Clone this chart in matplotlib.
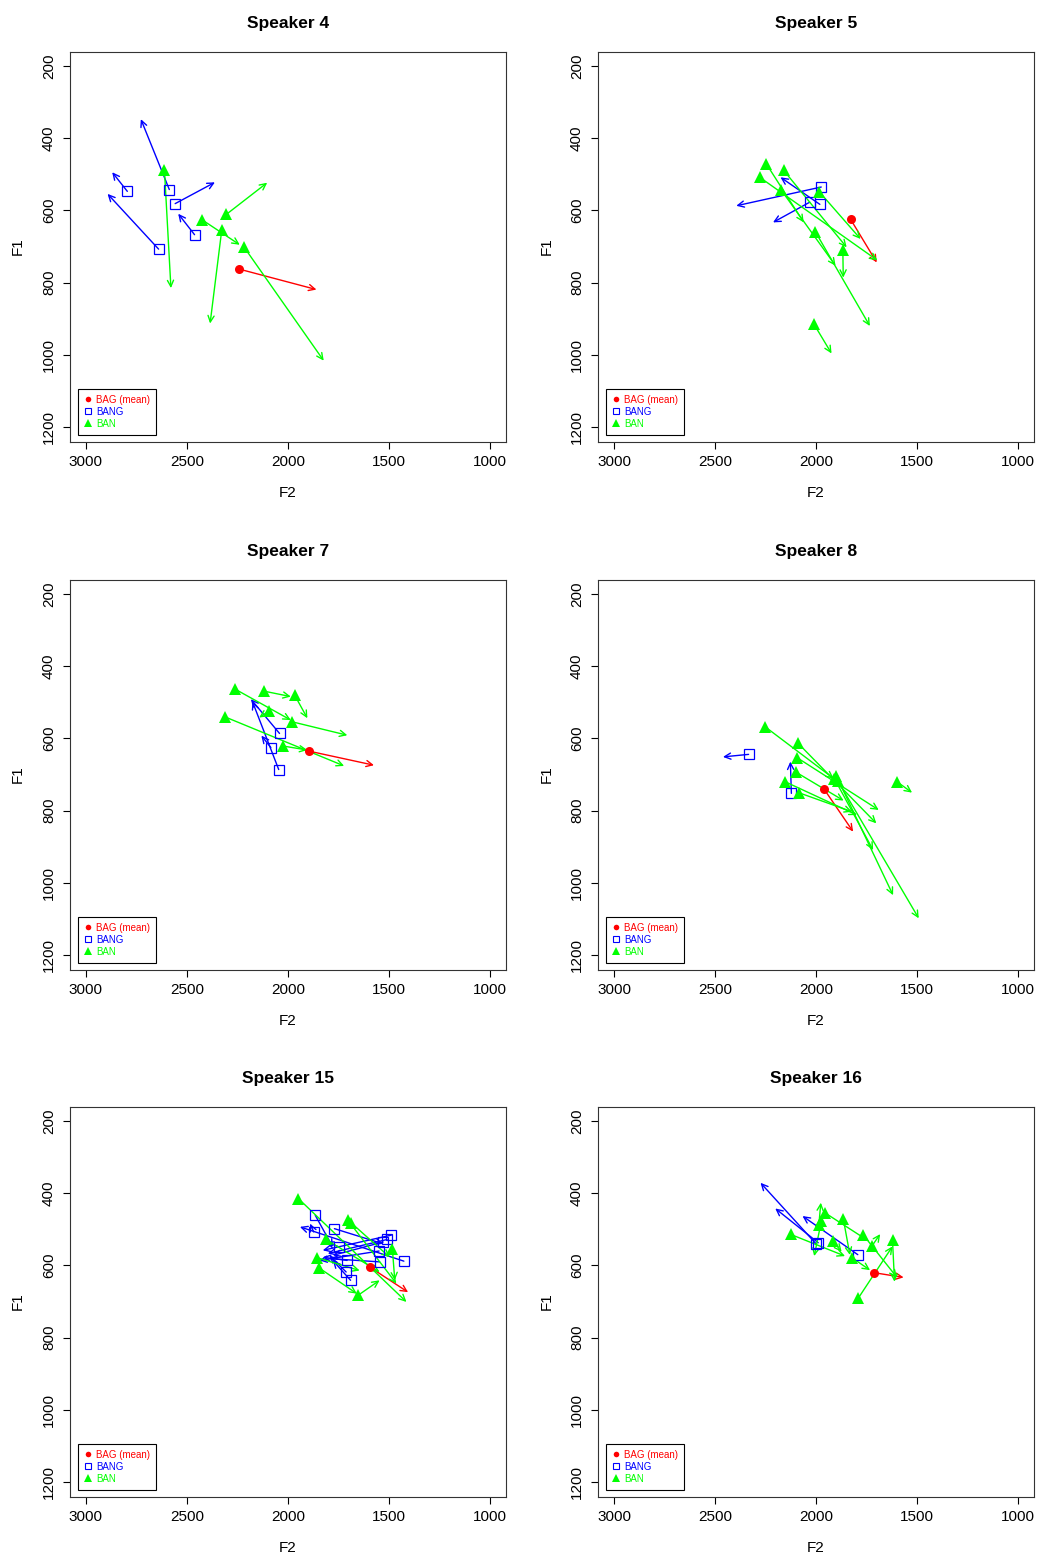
import matplotlib
matplotlib.use("Agg")
import matplotlib.pyplot as plt
from matplotlib.lines import Line2D

plt.rcParams['font.family'] = ['Liberation Sans', 'DejaVu Sans']

# each row: F2 onset, F1 onset, F2 offset, F1 offset (Hz)
spk4_bag = [(2243, 762, 1858, 819)]
spk4_bang = [(2795, 547, 2870, 494), (2587, 542, 2728, 347), (2558, 581, 2361, 522),
             (2462, 667, 2543, 609), (2640, 707, 2893, 554)]
spk4_ban = [(2611, 489, 2579, 815), (2424, 626, 2238, 695), (2305, 611, 2102, 523),
            (2327, 653, 2385, 913), (2216, 702, 1822, 1016)]

spk5_bag = [(1829, 624, 1699, 744)]
spk5_bang = [(1974, 535, 2395, 587), (2031, 577, 2213, 633), (1981, 583, 2176, 508)]
spk5_ban = [(2246, 471, 2061, 633), (2160, 489, 1848, 702), (2279, 508, 1696, 738),
            (2173, 543, 1903, 753), (1984, 548, 1779, 679), (2003, 659, 1733, 920),
            (1867, 710, 1865, 786), (2011, 914, 1923, 996)]

spk7_bag = [(1895, 635, 1573, 674)]
spk7_bang = [(2041, 586, 2183, 491), (2084, 625, 2131, 592), (2045, 686, 2175, 498)]
spk7_ban = [(2262, 463, 1985, 549), (2117, 469, 1985, 484), (1966, 480, 1903, 544),
            (2093, 524, 2142, 542), (2312, 540, 1721, 676), (1977, 554, 1705, 591),
            (2022, 621, 1903, 632)]

spk8_bag = [(1959, 741, 1816, 858)]
spk8_bang = [(2334, 644, 2461, 651), (2122, 752, 2127, 664)]
spk8_ban = [(2251, 568, 1912, 711), (2091, 612, 1701, 835), (2094, 653, 1689, 798),
            (2097, 694, 1863, 772), (2152, 720, 1797, 812), (2086, 750, 1821, 803),
            (1899, 704, 1618, 1034), (1892, 717, 1491, 1098), (1909, 711, 1717, 909),
            (1598, 720, 1524, 750)]

spk15_bag = [(1595, 604, 1404, 674)]
spk15_bang = [(1425, 588, 1940, 493), (1487, 516, 1827, 558), (1508, 528, 1802, 567),
              (1528, 535, 1777, 572), (1548, 560, 1844, 586), (1545, 590, 1794, 581),
              (1864, 461, 1777, 549), (1872, 507, 1890, 484), (1769, 498, 1528, 540),
              (1744, 549, 1811, 535), (1706, 586, 1827, 577), (1711, 618, 1794, 572),
              (1689, 641, 1777, 586)]
spk15_ban = [(1947, 415, 1412, 701), (1702, 475, 1462, 650), (1686, 482, 1495, 577),
             (1811, 528, 1545, 618), (1482, 553, 1470, 641), (1857, 578, 1644, 614),
             (1847, 606, 1658, 678), (1653, 683, 1545, 641)]

spk16_bag = [(1712, 620, 1566, 633)]
spk16_bang = [(1998, 541, 2275, 371), (1989, 537, 2202, 442), (1793, 570, 2067, 463)]
spk16_ban = [(1956, 454, 1740, 532), (1973, 476, 2009, 574), (1986, 488, 1976, 426),
             (1865, 470, 1832, 571), (1765, 516, 1599, 633), (2125, 514, 1856, 574),
             (1915, 533, 1873, 562), (1724, 547, 1682, 513), (1621, 530, 1611, 645),
             (1823, 578, 1732, 613), (1790, 690, 1621, 547)]

titles = ["Speaker 4", "Speaker 5", "Speaker 7", "Speaker 8", "Speaker 15", "Speaker 16"]
panels = [(spk4_bag, spk4_bang, spk4_ban), (spk5_bag, spk5_bang, spk5_ban),
          (spk7_bag, spk7_bang, spk7_ban), (spk8_bag, spk8_bang, spk8_ban),
          (spk15_bag, spk15_bang, spk15_ban), (spk16_bag, spk16_bang, spk16_ban)]
labels = ["BAG (mean)", "BANG", "BAN"]
colors = ["#FF0000", "#0000FF", "#00FF00"]
markers = ["o", "s", "^"]
sizes = [6.5, 6.5, 9]

W, H = 1037, 1557
fig = plt.figure(figsize=(W / 100, H / 100), dpi=100)
lefts = [69.8, 598.0]
tops = [51.6, 579.6, 1106.6]
aw, ah = 436.0, 390.0

for i, (title, sets) in enumerate(zip(titles, panels)):
    r, c = divmod(i, 2)
    ax = fig.add_axes([lefts[c] / W, 1 - (tops[r] + ah) / H, aw / W, ah / H])
    for rows, col in zip(sets, colors):
        for f2a, f1a, f2b, f1b in rows:
            ax.annotate("", xy=(f2b, f1b), xytext=(f2a, f1a),
                        arrowprops=dict(arrowstyle="->,head_length=0.45,head_width=0.22",
                                        color=col, lw=1.0, shrinkA=0, shrinkB=0))
    for rows, col, mk, ms in zip(sets, colors, markers, sizes):
        xs = [row[0] for row in rows]
        ys = [row[1] for row in rows]
        if mk == "s":
            ax.plot(xs, ys, ls="none", marker=mk, ms=ms, mfc="none", mec=col, mew=0.9, zorder=3)
        else:
            ax.plot(xs, ys, ls="none", marker=mk, ms=ms, color=col, mew=0, zorder=3)

    ax.set_xlim(3080, 920)
    ax.set_ylim(1240, 160)
    ax.set_xticks([3000, 2500, 2000, 1500, 1000])
    ax.set_yticks([200, 400, 600, 800, 1000, 1200])
    ax.tick_params(length=5, width=0.8, labelsize=11, pad=5)
    ax.tick_params(axis="y", labelrotation=90)
    plt.setp(ax.get_yticklabels(), va="center")
    for s in ax.spines.values():
        s.set_linewidth(0.8)
        s.set_color("#333333")
    ax.set_xlabel("F2", fontsize=11, labelpad=12)
    ax.set_ylabel("F1", fontsize=11, labelpad=12)
    ax.set_title(title, fontweight="bold", fontsize=12.5, pad=17)

    handles = [Line2D([], [], ls="none", marker="o", ms=4, color=colors[0], mew=0),
               Line2D([], [], ls="none", marker="s", ms=4.5, mfc="none", mec=colors[1], mew=0.8),
               Line2D([], [], ls="none", marker="^", ms=5.5, color=colors[2], mew=0)]
    leg = ax.legend(handles, labels, loc="lower left", bbox_to_anchor=(8 / aw, 7 / ah),
                    borderaxespad=0, fontsize=7, labelcolor=colors, fancybox=False,
                    edgecolor="black", framealpha=1, handlelength=0.8, handletextpad=0.5,
                    labelspacing=0.2, borderpad=0.6)
    leg.get_frame().set_linewidth(0.8)

fig.savefig("out.png", dpi=100)
